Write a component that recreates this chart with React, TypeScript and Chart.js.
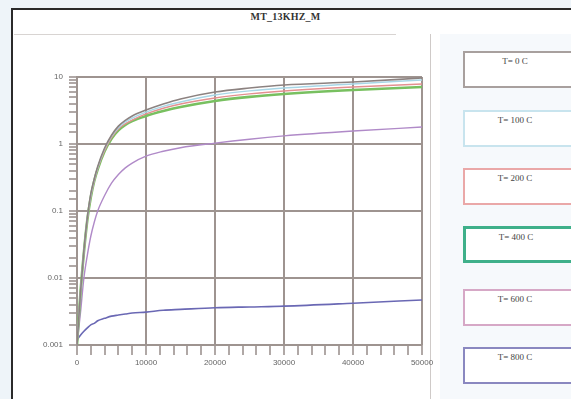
import React, { useEffect, useRef } from "react";
import { Chart, registerables } from "chart.js";

Chart.register(...registerables);

const TITLE = "MT_13KHZ_M";
const xValues = [0, 500, 1000, 1500, 2000, 2500, 3000, 4000, 5000, 6000, 7000, 8000, 10000, 12500, 15000, 20000, 25000, 30000, 40000, 50000];
const seriesLabels = ["T= 0 C", "T= 100 C", "T= 200 C", "T= 400 C", "T= 600 C", "T= 800 C"];
const t0 = [0.001, 0.006, 0.026, 0.08, 0.18, 0.3, 0.46, 0.87, 1.35, 1.85, 2.25, 2.62, 3.21, 3.95, 4.7, 5.97, 6.85, 7.6, 8.4, 9.66];
const t100 = [0.001, 0.006, 0.025, 0.078, 0.17, 0.29, 0.44, 0.84, 1.3, 1.75, 2.13, 2.44, 3.0, 3.65, 4.24, 5.38, 6.2, 6.85, 7.87, 9.02];
const t200 = [0.001, 0.006, 0.024, 0.075, 0.165, 0.28, 0.43, 0.8, 1.25, 1.68, 2.0, 2.28, 2.81, 3.42, 3.96, 4.86, 5.6, 6.18, 7.1, 7.87];
const t400 = [0.001, 0.006, 0.024, 0.074, 0.16, 0.28, 0.42, 0.78, 1.2, 1.6, 1.93, 2.2, 2.62, 3.1, 3.56, 4.39, 5.05, 5.57, 6.4, 7.1];
const t600 = [0.001, 0.003, 0.01, 0.022, 0.042, 0.068, 0.1, 0.17, 0.26, 0.35, 0.44, 0.52, 0.66, 0.78, 0.88, 1.03, 1.18, 1.32, 1.56, 1.79];
const t800 = [0.0012, 0.0014, 0.0016, 0.0018, 0.002, 0.0021, 0.0023, 0.0025, 0.0027, 0.0028, 0.0029, 0.003, 0.0031, 0.0033, 0.0034, 0.0036, 0.0037, 0.0038, 0.0042, 0.0047];
const seriesValues = [t0, t100, t200, t400, t600, t800];
const seriesColors = ["#8c8280", "#a8d6e6", "#e49090", "#78c060", "#b08ac8", "#6a68b4"];
const seriesWidths = [1.6, 1.4, 1.4, 2.6, 1.4, 1.6];
const boxColors = ["#a8a09e", "#c8e4ee", "#eaa8a8", "#3fb08a", "#d6a8c6", "#8a88c0"];
const boxWidths = [2, 2, 2, 3, 2, 2];
const yTickLabels: Record<string, string> = { "10": "10", "1": "1", "0.1": "0.1", "0.01": "0.01", "0.001": "0.001" };
const xTickLabels = ["0", "10000", "20000", "30000", "40000", "50000"];

const GRID = "#9e9490";

export default function App() {
  const ref = useRef<HTMLCanvasElement | null>(null);
  useEffect(() => {
    if (!ref.current) return;
    const chart = new Chart(ref.current, {
      type: "line",
      data: {
        datasets: seriesLabels.map((l, i) => ({
          label: l,
          data: xValues.map((x, j) => ({ x, y: seriesValues[i][j] })),
          borderColor: seriesColors[i],
          backgroundColor: seriesColors[i],
          borderWidth: seriesWidths[i],
          pointRadius: 0,
          cubicInterpolationMode: "monotone" as const,
        })),
      },
      options: {
        animation: false,
        responsive: false,
        layout: { padding: { top: 41, right: 17, left: 0, bottom: 0 } },
        plugins: { legend: { display: false }, tooltip: { enabled: false } },
        scales: {
          x: {
            type: "linear",
            min: 0,
            max: 50000,
            ticks: {
              stepSize: 2000,
              autoSkip: false,
              maxRotation: 0,
              font: { size: 8, family: "Liberation Sans" },
              color: "#666",
              callback: (v: any) => {
                const n = Number(v);
                return n % 10000 === 0 ? xTickLabels[n / 10000] : "";
              },
            },
            grid: {
              color: (c: any) => (c.tick && c.tick.value % 10000 === 0 ? GRID : "transparent"),
              lineWidth: 2,
              tickColor: "#b0a8a6",
              tickLength: 10,
              drawTicks: true,
            },
            border: { display: false },
            afterFit: (s: any) => {
              s.height = 51;
            },
          },
          y: {
            type: "logarithmic",
            min: 0.001,
            max: 10,
            ticks: {
              autoSkip: false,
              font: { size: 8, family: "Liberation Sans" },
              color: "#666",
              padding: 6,
              callback: (v: any) => {
                const k = String(Number(v));
                return yTickLabels[k] !== undefined ? yTickLabels[k] : "";
              },
            },
            grid: {
              color: (c: any) => {
                const v = c.tick ? c.tick.value : 0;
                const lg = Math.log10(v);
                return Math.abs(lg - Math.round(lg)) < 1e-6 ? GRID : "transparent";
              },
              lineWidth: 2,
              tickColor: "#b0a8a6",
              tickLength: 8,
            },
            border: { display: true, color: GRID, width: 2 },
            afterFit: (s: any) => {
              s.width = 63;
            },
          },
        },
      },
    });
    return () => chart.destroy();
  }, []);

  const boxTops = [51, 110, 168, 226, 289, 347];

  return (
    <div style={{ position: "fixed", left: 0, top: 0, width: 571, height: 399, background: "#eef4f9", overflow: "hidden" }}>
      <div
        style={{
          position: "absolute",
          left: 11,
          top: 8,
          width: 580,
          height: 400,
          border: "2px solid #2a2a2a",
          background: "#ffffff",
        }}
      />
      <div
        style={{
          position: "absolute",
          left: 0,
          width: 571,
          top: 11,
          textAlign: "center",
          font: "bold 10px 'Liberation Serif'",
          color: "#333",
          letterSpacing: 0.2,
        }}
      >
        {TITLE}
      </div>
      <div style={{ position: "absolute", left: 14, top: 34, width: 382, height: 1, background: "#d8d4d2" }} />
      <div style={{ position: "absolute", left: 430, top: 34, width: 1, height: 370, background: "#cfcac8" }} />
      <div style={{ position: "absolute", left: 440, top: 34, width: 140, height: 370, background: "#f6f9fc" }} />
      <canvas ref={ref} width={425} height={360} style={{ position: "absolute", left: 14, top: 36, width: 425, height: 360 }} />
      {seriesLabels.map((l, i) => (
        <div
          key={l}
          style={{
            position: "absolute",
            left: 463,
            top: boxTops[i],
            width: 120,
            height: 37,
            border: `${boxWidths[i]}px solid ${boxColors[i]}`,
            background: "#ffffff",
            boxSizing: "border-box",
          }}
        >
          <div
            style={{
              position: "absolute",
              left: 0,
              width: 100,
              top: 3,
              textAlign: "center",
              font: "9px 'Liberation Serif'",
              color: "#444",
            }}
          >
            {l}
          </div>
        </div>
      ))}
    </div>
  );
}
